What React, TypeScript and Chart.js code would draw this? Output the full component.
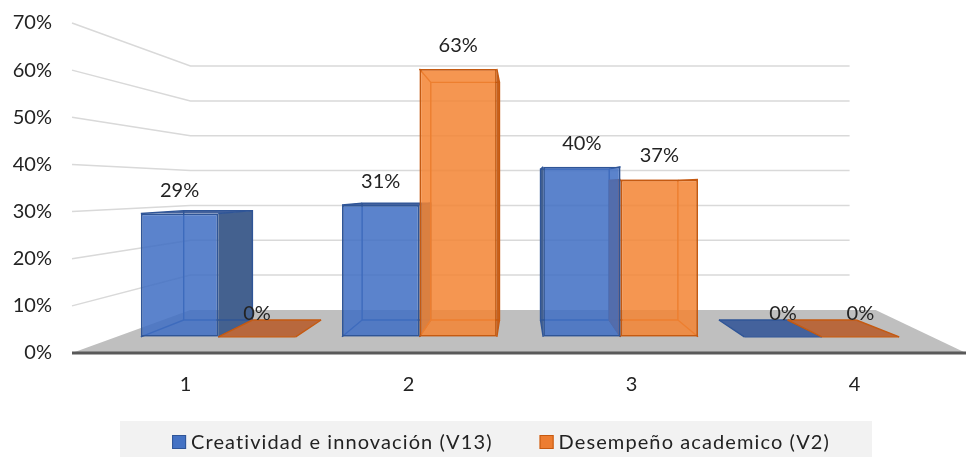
import React, { useEffect, useRef } from 'react';
import { Chart, registerables } from 'chart.js';

Chart.register(...registerables);

// ---------- data ----------
const categories = ['1', '2', '3', '4'];
const seriesNames = ['Creatividad e innovación (V13)', 'Desempeño academico (V2)'];
const creatividadValues = [0.29, 0.31, 0.4, 0];
const desempenoValues = [0, 0.63, 0.37, 0];
const yTickLabels = ['0%', '10%', '20%', '30%', '40%', '50%', '60%', '70%'];

// ---------- style ----------
const FONT = 'Lato, "Open Sans", sans-serif';
const TEXT = '#232323';
const S_BAR_FRONT = 0.902;
const S_BAR_BACK = 0.8;
const S_WALL = 0.739;

const palette = [
  { face: 'rgba(64,111,196,0.86)', border: '#2f5597', side: '#44618f', top: '#44629c', legend: '#4472c4' },
  { face: 'rgba(243,133,52,0.86)', border: '#c55a11', side: '#c8611d', top: '#b8683d', legend: '#ed7d31' },
];

type P = { vx: number; vy: number };
const vpOf = (chart: any): P => {
  const a = chart.chartArea;
  return { vx: (a.left + a.right) / 2, vy: (a.top + a.bottom) / 2 };
};
const proj = (p: P, x: number, y: number, s: number): [number, number] => [
  p.vx + s * (x - p.vx),
  p.vy + s * (y - p.vy),
];

const poly = (ctx: CanvasRenderingContext2D, pts: [number, number][]) => {
  ctx.beginPath();
  pts.forEach((pt, i) => (i === 0 ? ctx.moveTo(pt[0], pt[1]) : ctx.lineTo(pt[0], pt[1])));
  ctx.closePath();
};

const scenePlugin = {
  id: 'scene3d',
  beforeDraw(chart: any) {
    const ctx: CanvasRenderingContext2D = chart.ctx;
    const a = chart.chartArea;
    const p = vpOf(chart);
    const ys = chart.scales.y;
    ctx.save();
    // walls gridlines
    ctx.strokeStyle = '#d9d9d9';
    ctx.lineWidth = 1.5;
    ys.ticks.forEach((t: any) => {
      if (t.value === 0) return;
      const yF = ys.getPixelForValue(t.value);
      const bl = proj(p, a.left, yF, S_WALL);
      const br = proj(p, a.right, yF, S_WALL);
      ctx.beginPath();
      ctx.moveTo(a.left - 2, yF);
      ctx.lineTo(bl[0], bl[1]);
      ctx.lineTo(br[0], br[1]);
      ctx.stroke();
    });
    // floor
    const bl = proj(p, a.left, a.bottom, S_WALL);
    const br = proj(p, a.right, a.bottom, S_WALL);
    ctx.fillStyle = '#bfbfbf';
    poly(ctx, [
      [a.left - 2, a.bottom],
      [chart.width, a.bottom],
      [br[0] + 26, br[1]],
      [bl[0], bl[1]],
    ]);
    ctx.fill();
    ctx.strokeStyle = '#595959';
    ctx.lineWidth = 3;
    ctx.beginPath();
    ctx.moveTo(a.left - 2, a.bottom);
    ctx.lineTo(chart.width, a.bottom);
    ctx.stroke();
    ctx.restore();
  },
  beforeDatasetsDraw(chart: any) {
    const ctx: CanvasRenderingContext2D = chart.ctx;
    const p = vpOf(chart);
    ctx.save();
    chart.getSortedVisibleDatasetMetas().forEach((meta: any) => {
      const col = palette[meta.index];
      meta.data.forEach((el: any) => {
        const { x, y, base, width } = el.getProps(['x', 'y', 'base', 'width'], true);
        const l = x - width / 2;
        const r = x + width / 2;
        const top = Math.min(y, base);
        const bot = Math.max(y, base);
        const fTL = proj(p, l, top, S_BAR_FRONT);
        const fTR = proj(p, r, top, S_BAR_FRONT);
        const fBL = proj(p, l, bot, S_BAR_FRONT);
        const fBR = proj(p, r, bot, S_BAR_FRONT);
        const bTL = proj(p, l, top, S_BAR_BACK);
        const bTR = proj(p, r, top, S_BAR_BACK);
        const bBL = proj(p, l, bot, S_BAR_BACK);
        const bBR = proj(p, r, bot, S_BAR_BACK);
        // visible side face
        ctx.fillStyle = col.side;
        if (x < p.vx) poly(ctx, [fTR, bTR, bBR, fBR]);
        else poly(ctx, [fTL, bTL, bBL, fBL]);
        if (bot - top > 0.5) ctx.fill();
        // top face
        if (bTL[1] < fTL[1] || bot - top < 0.5) {
          ctx.fillStyle = col.top;
          poly(ctx, [fTL, fTR, bTR, bTL]);
          ctx.fill();
        }
        // edges
        ctx.strokeStyle = col.border;
        ctx.lineWidth = 1.4;
        poly(ctx, [bTL, bTR, bBR, bBL]);
        ctx.stroke();
        ctx.beginPath();
        [[fTL, bTL], [fTR, bTR], [fBL, bBL], [fBR, bBR]].forEach(([f, b]) => {
          ctx.moveTo(f[0], f[1]);
          ctx.lineTo(b[0], b[1]);
        });
        ctx.stroke();
        if (bot - top < 0.5) {
          ctx.beginPath();
          ctx.moveTo(fBL[0], fBL[1]);
          ctx.lineTo(fBR[0], fBR[1]);
          ctx.stroke();
        }
      });
    });
    ctx.restore();
    // front faces: drawn by Chart.js, projected onto the bars' front plane
    ctx.save();
    ctx.translate(p.vx, p.vy);
    ctx.scale(S_BAR_FRONT, S_BAR_FRONT);
    ctx.translate(-p.vx, -p.vy);
  },
  afterDatasetsDraw(chart: any) {
    const ctx: CanvasRenderingContext2D = chart.ctx;
    ctx.restore();
    const p = vpOf(chart);
    ctx.save();
    ctx.font = `20px ${FONT}`;
    ctx.fillStyle = TEXT;
    ctx.textAlign = 'center';
    ctx.textBaseline = 'alphabetic';
    chart.getSortedVisibleDatasetMetas().forEach((meta: any) => {
      const data = chart.data.datasets[meta.index].data;
      meta.data.forEach((el: any, i: number) => {
        const { x, y } = el.getProps(['x', 'y'], true);
        const [lx, ly] = proj(p, x, y, S_BAR_FRONT);
        ctx.fillText(`${Math.round(data[i] * 100)}%`, lx, ly - 17);
      });
    });
    ctx.restore();
  },
  afterDraw(chart: any) {
    const ctx: CanvasRenderingContext2D = chart.ctx;
    ctx.save();
    ctx.fillStyle = '#f2f2f2';
    ctx.fillRect(120, 421, 752, 36);
    ctx.font = `20px ${FONT}`;
    (ctx as any).letterSpacing = '1.1px';
    const sq = 14;
    const gap = 5;
    const itemGap = 47;
    const widths = seriesNames.map((n) => ctx.measureText(n).width);
    const total = widths.reduce((s, w) => s + w + sq + gap, 0) + itemGap;
    let cx = 501 - total / 2;
    ctx.textAlign = 'left';
    ctx.textBaseline = 'alphabetic';
    seriesNames.forEach((n, i) => {
      ctx.fillStyle = palette[i].legend;
      ctx.fillRect(cx, 435, sq, sq);
      ctx.strokeStyle = palette[i].border;
      ctx.lineWidth = 1;
      ctx.strokeRect(cx + 0.5, 435.5, sq - 1, sq - 1);
      ctx.fillStyle = TEXT;
      ctx.fillText(n, cx + sq + gap, 449);
      cx += sq + gap + widths[i] + itemGap;
    });
    ctx.restore();
  },
};

export default function App() {
  const ref = useRef<HTMLCanvasElement>(null);
  useEffect(() => {
    const chart = new Chart(ref.current as HTMLCanvasElement, {
      type: 'bar',
      data: {
        labels: categories,
        datasets: [
          {
            label: seriesNames[0],
            data: creatividadValues,
            backgroundColor: palette[0].face,
            borderColor: palette[0].border,
            borderWidth: 2,
            borderSkipped: false,
          },
          {
            label: seriesNames[1],
            data: desempenoValues,
            backgroundColor: palette[1].face,
            borderColor: palette[1].border,
            borderWidth: 2,
            borderSkipped: false,
          },
        ],
      },
      options: {
        responsive: false,
        animation: false,
        events: [],
        layout: { padding: { top: 23, left: 0, right: 0, bottom: 0 } },
        datasets: { bar: { categoryPercentage: 0.77, barPercentage: 1 } },
        plugins: {
          legend: { display: false },
          tooltip: { enabled: false },
        },
        scales: {
          x: {
            grid: { display: false, drawTicks: false },
            border: { display: false },
            ticks: { font: { family: FONT, size: 20 }, color: TEXT, padding: 20, maxRotation: 0, autoSkip: false },
            afterFit: (s: any) => {
              s.height = 104;
            },
          },
          y: {
            min: 0,
            max: 0.7,
            grid: { display: false, drawTicks: false },
            border: { display: false },
            ticks: {
              stepSize: 0.1,
              padding: 22,
              font: { family: FONT, size: 20 },
              color: TEXT,
              callback: (v: any) => yTickLabels[Math.round(Number(v) * 10)],
            },
            afterFit: (s: any) => {
              s.width = 74;
              s.paddingTop = 12;
              s.paddingBottom = 12;
            },
          },
        },
      } as any,
      plugins: [scenePlugin],
    });
    return () => chart.destroy();
  }, []);
  return (
    <div style={{ position: 'fixed', left: 0, top: 0, width: 966, height: 457, background: '#fff' }}>
      <canvas ref={ref} width={966} height={457} style={{ display: 'block', width: 966, height: 457 }} />
    </div>
  );
}
